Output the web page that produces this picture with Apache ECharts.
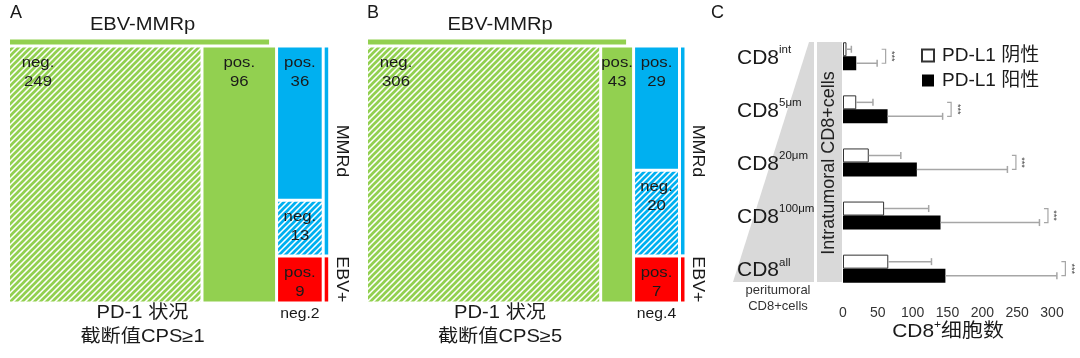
<!DOCTYPE html>
<html><head><meta charset="utf-8">
<script src="https://cdn.jsdelivr.net/npm/echarts@6/dist/echarts.min.js"></script>
<style>html,body{margin:0;padding:0;background:#fff}#c{width:1080px;height:358px}</style>
</head><body><div id="c"></div>
<script>
// ---------- data ----------
const countsA_mmrp = [249, 96];   // EBV-MMRp: [PD-1 neg, PD-1 pos]
const countsA_mmrd = [36, 13];    // MMRd: [pos, neg]
const countsA_ebv  = [9, 2];      // EBV+: [pos, neg]
const countsB_mmrp = [306, 43];
const countsB_mmrd = [29, 20];
const countsB_ebv  = [7, 4];
const cutoffA = 'CPS≥1';
const cutoffB = 'CPS≥5';
const cd8Cats = ['int', '5μm', '20μm', '100μm', 'all'];
const pdl1NegMean  = [5, 19, 37, 59, 65];
const pdl1NegUpper = [12, 43, 83, 123, 127];
const pdl1PosMean  = [19, 64, 106, 140, 147];
const pdl1PosUpper = [49, 143, 236, 282, 307];
const xTickRange = [0, 300, 50]; // min, max, interval
const seriesNames = ['PD-L1 阴性', 'PD-L1 阳性'];

// ---------- style ----------
const FONT = '"Liberation Sans", Arial, "Noto Sans CJK SC", sans-serif';
const GREEN = '#92d050', BLUE = '#00b0f0', RED = '#ff0000', TXT = '#1a1a1a';
const SX = 1.12;

function hatch(color) {
  const s = 6, c = document.createElement('canvas');
  c.width = s; c.height = s;
  const g = c.getContext('2d');
  g.fillStyle = '#fff'; g.fillRect(0, 0, s, s);
  g.strokeStyle = color; g.lineWidth = 2.7; g.lineCap = 'square';
  g.beginPath();
  g.moveTo(-2, s + 2); g.lineTo(s + 2, -2);
  g.moveTo(-2, 2); g.lineTo(2, -2);
  g.moveTo(s - 2, s + 2); g.lineTo(s + 2, s - 2);
  g.stroke();
  return { image: c, repeat: 'repeat' };
}
const HATCH = { [GREEN]: hatch(GREEN), [BLUE]: hatch(BLUE) };

function mosaic(mmrp, mmrd, ebv) {
  const col3 = mmrd[0] + mmrd[1] + ebv[0] + ebv[1];
  const a = mmrp[0], b = mmrp[0] + mmrp[1], t = b + col3;
  const f1 = mmrd[0] / col3, f2 = (mmrd[0] + mmrd[1]) / col3;
  return {
    total: t, mp: b, f2: f2, ebvNeg: ebv[1],
    cells: [
      { r: [0, 0, a, 1], color: GREEN, hatch: true, text: 'neg.\n' + mmrp[0], left: true },
      { r: [a, 0, b, 1], color: GREEN, text: 'pos.\n' + mmrp[1] },
      { r: [b, 0, t, f1], color: BLUE, text: 'pos.\n' + mmrd[0] },
      { r: [b, f1, t, f2], color: BLUE, hatch: true, text: 'neg.\n' + mmrd[1] },
      { r: [b, f2, t, 1], color: RED, text: 'pos.\n' + ebv[0] }
    ]
  };
}
const MA = mosaic(countsA_mmrp, countsA_mmrd, countsA_ebv);
const MB = mosaic(countsB_mmrp, countsB_mmrd, countsB_ebv);

function txt(x, y, text, size, extra) {
  return Object.assign({
    type: 'text', x: x, y: y, scaleX: SX,
    style: { text: text, fill: TXT, fontSize: size, fontFamily: FONT, align: 'center', verticalAlign: 'middle' }
  }, extra || {});
}

function cellSeries(M, gi) {
  return {
    type: 'custom', xAxisIndex: gi, yAxisIndex: gi, silent: true, z: 2,
    data: M.cells.map(c => c.r),
    encode: { x: [0, 2], y: [1, 3] },
    renderItem(params, api) {
      const c = M.cells[params.dataIndex];
      const p0 = api.coord([api.value(0), api.value(1)]);
      const p1 = api.coord([api.value(2), api.value(3)]);
      const g = 1.5;
      const x = p0[0] + g, y = p0[1] + g, w = p1[0] - p0[0] - 2 * g, h = p1[1] - p0[1] - 2 * g;
      const tx = c.left ? x + 28 : x + w / 2;
      return {
        type: 'group', children: [
          { type: 'rect', shape: { x: x, y: y, width: w, height: h }, style: { fill: c.hatch ? HATCH[c.color] : c.color } },
          { type: 'text', x: tx, y: y + 6, scaleX: 1.08, style: { text: c.text, fill: TXT, fontSize: 15.5, fontFamily: FONT, align: 'center', verticalAlign: 'top', lineHeight: 19 } }
        ]
      };
    }
  };
}

function annoSeries(M, gi, cutoff) {
  return {
    type: 'custom', xAxisIndex: gi, yAxisIndex: gi, silent: true, z: 3,
    data: [[0, M.mp, M.total, 0, M.f2, 1]],
    encode: { x: [0, 1, 2], y: [3, 4, 5] },
    renderItem(params, api) {
      const L = api.coord([api.value(0), api.value(3)]);
      const P = api.coord([api.value(1), api.value(5)]);
      const R = api.coord([api.value(2), api.value(4)]);
      const top = L[1], bottom = P[1], split = R[1];
      const mid = (L[0] + P[0]) / 2;
      const sx = R[0] + 1.5;
      const c3 = (P[0] + R[0]) / 2;
      return {
        type: 'group', children: [
          { type: 'rect', shape: { x: L[0] + 1.5, y: top - 6.5, width: P[0] - L[0] - 9, height: 5 }, style: { fill: GREEN } },
          txt(mid, top - 21, 'EBV-MMRp', 18),
          txt(mid, bottom + 10, 'PD-1 状况', 18),
          txt(mid, bottom + 34, '截断值' + cutoff, 18),
          { type: 'rect', shape: { x: sx, y: top + 1.5, width: 3.5, height: split - top - 3 }, style: { fill: BLUE } },
          { type: 'rect', shape: { x: sx, y: split + 1.5, width: 3.5, height: bottom - split - 3 }, style: { fill: RED } },
          txt(sx + 17, (top + split) / 2, 'MMRd', 17, { rotation: -Math.PI / 2, scaleX: 1.05 }),
          txt(sx + 17, (split + bottom) / 2, 'EBV+', 17, { rotation: -Math.PI / 2, scaleX: 1.05 }),
          txt(c3, bottom + 11, 'neg.' + M.ebvNeg, 15, { scaleX: 1.05 })
        ]
      };
    }
  };
}

const chart = echarts.init(document.getElementById('c'), null, { renderer: 'canvas' });

const hiddenX = (max) => ({ type: 'value', min: 0, max: max, show: false });
const hiddenY = { type: 'value', min: 0, max: 1, inverse: true, show: false };

const option = {
  animation: false,
  backgroundColor: '#fff',
  textStyle: { fontFamily: FONT },
  grid: [
    { left: 8.5, top: 46, width: 314.7, height: 257 },
    { left: 366.5, top: 46, width: 313, height: 257 },
    { left: 843, top: 29.7, width: 209, height: 265.5 }
  ],
  xAxis: [
    Object.assign(hiddenX(MA.total), { gridIndex: 0 }),
    Object.assign(hiddenX(MB.total), { gridIndex: 1 }),
    {
      gridIndex: 2, type: 'value', min: xTickRange[0], max: xTickRange[1], interval: xTickRange[2],
      axisLine: { show: false }, axisTick: { show: false }, splitLine: { show: false },
      axisLabel: { fontSize: 14, color: '#333', margin: 11, fontFamily: FONT }
    }
  ],
  yAxis: [
    Object.assign({}, hiddenY, { gridIndex: 0 }),
    Object.assign({}, hiddenY, { gridIndex: 1 }),
    {
      gridIndex: 2, type: 'category', inverse: true, data: cd8Cats, z: 5,
      axisLine: { show: false }, axisTick: { show: false },
      axisLabel: {
        align: 'left', margin: 106,
        formatter: v => '{b|CD8}{s|' + v + '}',
        rich: {
          b: { fontSize: 21, fontFamily: FONT, color: TXT, lineHeight: 24, verticalAlign: 'bottom' },
          s: { fontSize: 11.5, fontFamily: FONT, color: TXT, lineHeight: 12, verticalAlign: 'top' }
        }
      }
    }
  ],
  legend: {
    data: seriesNames, orient: 'vertical', left: 916, top: 41, itemWidth: 12, itemHeight: 12, itemGap: 6,
    icon: 'rect', selectedMode: false,
    textStyle: { fontSize: 19, fontFamily: FONT, color: TXT, lineHeight: 19, padding: [0, 0, 0, 3] }
  },
  graphic: [
    { type: 'polygon', z: -1, shape: { points: [[809, 42], [814, 42], [814, 282], [733, 282]] }, style: { fill: '#d9d9d9' } },
    { type: 'rect', z: -1, shape: { x: 817, y: 42, width: 25, height: 240 }, style: { fill: '#d9d9d9' } },
    { type: 'text', z: 10, x: 829.5, y: 163, rotation: Math.PI / 2, style: { text: 'Intratumoral CD8+cells', fontSize: 18, fontFamily: FONT, fill: '#222', align: 'center', verticalAlign: 'middle' } },
    { type: 'text', z: 10, x: 778, y: 298, style: { text: 'peritumoral\nCD8+cells', fontSize: 13, lineHeight: 16, fontFamily: FONT, fill: '#333', align: 'center', verticalAlign: 'middle' } },
    { type: 'text', z: 10, x: 948, y: 330, scaleX: 1.1, style: { text: '{a|CD8}{s|+}{a|细胞数}', rich: { a: { fontSize: 19, fontFamily: FONT, fill: TXT, lineHeight: 22, verticalAlign: 'bottom' }, s: { fontSize: 11, fontFamily: FONT, fill: TXT, lineHeight: 11, verticalAlign: 'top' } }, align: 'center', verticalAlign: 'middle' } },
    { type: 'text', z: 10, x: 10, y: 4, style: { text: 'A', fontSize: 18, fontFamily: FONT, fill: TXT } },
    { type: 'text', z: 10, x: 367, y: 4, style: { text: 'B', fontSize: 18, fontFamily: FONT, fill: TXT } },
    { type: 'text', z: 10, x: 711, y: 4, style: { text: 'C', fontSize: 18, fontFamily: FONT, fill: TXT } }
  ],
  series: [
    cellSeries(MA, 0), annoSeries(MA, 0, cutoffA),
    cellSeries(MB, 1), annoSeries(MB, 1, cutoffB),
    {
      type: 'bar', name: seriesNames[0], xAxisIndex: 2, yAxisIndex: 2, data: pdl1NegMean,
      barWidth: 14, barGap: '0%', silent: true,
      itemStyle: { color: '#fff', borderColor: '#333', borderWidth: 1 }
    },
    {
      type: 'bar', name: seriesNames[1], xAxisIndex: 2, yAxisIndex: 2, data: pdl1PosMean,
      barWidth: 14, barGap: '0%', silent: true,
      itemStyle: { color: '#000' }
    },
    {
      type: 'custom', xAxisIndex: 2, yAxisIndex: 2, silent: true, z: 4,
      data: cd8Cats.map((c, i) => [i, pdl1NegMean[i], pdl1NegUpper[i], pdl1PosMean[i], pdl1PosUpper[i]]),
      encode: { y: 0, x: [1, 2, 3, 4] },
      renderItem(params, api) {
        const i = api.value(0);
        const EC = '#a6a6a6';
        const parts = [];
        const bars = [[api.value(1), api.value(2), -7], [api.value(3), api.value(4), 7]];
        bars.forEach(b => {
          const p0 = api.coord([b[0], i]), p1 = api.coord([b[1], i]);
          const y = p0[1] + b[2];
          parts.push({ type: 'line', shape: { x1: p0[0], y1: y, x2: p1[0], y2: y }, style: { stroke: EC, lineWidth: 1.5 } });
          parts.push({ type: 'line', shape: { x1: p1[0], y1: y - 3.5, x2: p1[0], y2: y + 3.5 }, style: { stroke: EC, lineWidth: 1.5 } });
        });
        const pe = api.coord([api.value(4), i]);
        const bx = pe[0] + 4.5, cy = pe[1];
        parts.push({ type: 'polyline', shape: { points: [[bx, cy - 7], [bx + 4, cy - 7], [bx + 4, cy + 7], [bx, cy + 7]] }, style: { stroke: EC, lineWidth: 1.2, fill: null } });
        parts.push({ type: 'text', x: bx + 10, y: cy, rotation: -Math.PI / 2, style: { text: '***', fontSize: 9, fontFamily: FONT, fill: '#444', align: 'center', verticalAlign: 'middle' } });
        return { type: 'group', children: parts };
      }
    }
  ]
};
chart.setOption(option);
</script>
</body></html>
